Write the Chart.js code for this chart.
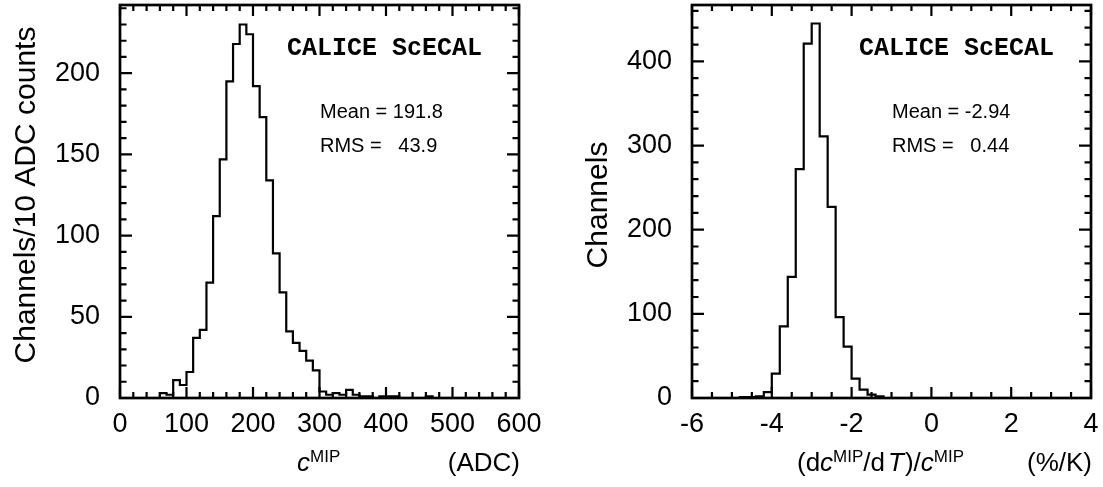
<!DOCTYPE html>
<html>
<head>
<meta charset="utf-8">
<script src="https://cdn.jsdelivr.net/npm/chart.js@4.4.1/dist/chart.umd.min.js"></script>
<style>
  html, body { margin: 0; padding: 0; background: #fff; }
  #wrap { position: relative; width: 1103px; height: 487px; }
  .painel { position: absolute; top: 0; height: 487px; }
  #p1 { left: 0; width: 551px; }
  #p2 { left: 551px; width: 552px; }
</style>
</head>
<body>
<div id="wrap">
  <div class="painel" id="p1"><canvas id="graficoAdc"></canvas></div>
  <div class="painel" id="p2"><canvas id="graficoSlope"></canvas></div>
</div>
<script>
// histograma 1: c^MIP, bins de 10 ADC a partir de 0
const adcBinStart = 0;
const adcBinWidth = 10;
const adcCounts = [
  0, 0, 0, 0, 0, 0, 3, 2, 11, 8,
  16, 37, 42, 71, 112, 147, 195, 218, 230, 224,
  192, 173, 134, 89, 65, 41, 34, 29, 23, 17,
  4, 2, 3, 2, 5, 2, 1, 1, 0, 1,
  1, 1, 0, 0, 0, 0, 1, 0, 0, 0,
  0, 0, 0, 0, 0, 0, 0, 0, 0, 0
];
const adcTicks = [0, 100, 200, 300, 400, 500, 600];
const adcCountTicks = [0, 50, 100, 150, 200];
const adcStats = ['Mean = 191.8', 'RMS =   43.9'];

// histograma 2: (dc/dT)/c, bins de 0.2 %/K a partir de -6
const slopeBinStart = -6;
const slopeBinWidth = 0.2;
const slopeCounts = [
  0, 0, 0, 0, 0, 0, 1, 1, 2, 7,
  29, 85, 144, 272, 421, 445, 311, 227, 96, 61,
  23, 10, 4, 2, 0, 0, 0, 0, 0, 0,
  0, 0, 0, 0, 0, 0, 0, 0, 0, 0,
  0, 0, 0, 0, 0, 0, 0, 0, 0, 0
];
const slopeTicks = [-6, -4, -2, 0, 2, 4];
const slopeCountTicks = [0, 100, 200, 300, 400];
const slopeStats = ['Mean = -2.94', 'RMS =   0.44'];

const SANS = '"Liberation Sans", Arial, Helvetica, sans-serif';
const MONO = '"Courier New", "Liberation Mono", monospace';

Chart.defaults.font.family = SANS;
Chart.defaults.color = '#000';

// pontos nas bordas dos bins, o ultimo fecha o bin final
function histPoints(start, width, counts) {
  const pts = counts.map((c, i) => ({ x: start + i * width, y: c }));
  pts.push({ x: start + counts.length * width, y: counts[counts.length - 1] });
  return pts;
}

// moldura estilo ROOT: caixa, ticks para dentro nos 4 lados, textos
const moldura = {
  id: 'moldura',
  afterDraw(chart, args, o) {
    const { ctx, chartArea: a } = chart;
    const x = chart.scales.x, y = chart.scales.y;
    ctx.save();
    ctx.strokeStyle = '#000';
    ctx.fillStyle = '#000';

    ctx.lineWidth = 2.2;
    ctx.beginPath();
    const nx = Math.round((x.max - x.min) / o.xMinor);
    for (let k = 0; k <= nx; k++) {
      const v = x.min + k * o.xMinor;
      const r = v / o.xMajor;
      const len = Math.abs(r - Math.round(r)) < 1e-6 ? 11 : 6;
      const px = x.getPixelForValue(v);
      ctx.moveTo(px, a.bottom); ctx.lineTo(px, a.bottom - len);
      ctx.moveTo(px, a.top); ctx.lineTo(px, a.top + len);
    }
    const ny = Math.floor(y.max / o.yMinor + 1e-9);
    for (let k = 0; k <= ny; k++) {
      const v = k * o.yMinor;
      const len = (v % o.yMajor) === 0 ? 12 : 6.5;
      const py = y.getPixelForValue(v);
      ctx.moveTo(a.left, py); ctx.lineTo(a.left + len, py);
      ctx.moveTo(a.right, py); ctx.lineTo(a.right - len, py);
    }
    ctx.stroke();

    ctx.lineWidth = 2.7;
    ctx.strokeRect(a.left, a.top, a.right - a.left, a.bottom - a.top);

    // rotulo do experimento e estatisticas
    ctx.textAlign = 'left';
    ctx.textBaseline = 'alphabetic';
    ctx.font = 'bold 25px ' + MONO;
    ctx.fillText('CALICE ScECAL', a.left + 167, 55);
    ctx.font = '20px ' + SANS;
    ctx.fillText(o.stats[0], a.left + 200, 118);
    ctx.fillText(o.stats[1], a.left + 200, 152);

    // titulo do eixo x com sobrescritos
    let cx = a.left + o.titleX;
    o.xTitle.forEach(p => {
      ctx.font = p.font;
      ctx.fillText(p.t, cx, 471 - (p.up || 0));
      cx += ctx.measureText(p.t).width + (p.gap || 0);
    });
    ctx.font = '26px ' + SANS;
    ctx.textAlign = 'right';
    ctx.fillText(o.unit, a.right + 1, 471);

    // titulo do eixo y
    ctx.font = '30px ' + SANS;
    ctx.textAlign = 'center';
    ctx.translate(a.left - 85, o.yTitleY);
    ctx.rotate(-Math.PI / 2);
    ctx.fillText(o.yTitle, 0, 0);
    ctx.restore();
  }
};

const N = '26px ' + SANS;
const I = 'italic 26px ' + SANS;
const S = '17px ' + SANS;

function makeChart(id, p) {
  return new Chart(document.getElementById(id), {
    type: 'line',
    data: {
      datasets: [{
        data: histPoints(p.start, p.width, p.counts),
        stepped: 'before',
        borderColor: '#000',
        borderWidth: 2.2,
        pointRadius: 0,
        fill: false
      }]
    },
    plugins: [moldura],
    options: {
      responsive: true,
      maintainAspectRatio: false,
      animation: false,
      events: [],
      layout: { padding: { top: 5, right: p.padRight, left: 0, bottom: 0 } },
      plugins: {
        legend: { display: false },
        tooltip: { enabled: false },
        moldura: {
          xMinor: p.xMinor, xMajor: p.xMajor, yMinor: p.yMinor, yMajor: p.yMajor,
          stats: p.stats, xTitle: p.xTitle, titleX: p.titleX, unit: p.unit,
          yTitle: p.yTitle, yTitleY: p.yTitleY
        }
      },
      scales: {
        x: {
          type: 'linear',
          bounds: 'data',
          min: p.xTicks[0],
          max: p.xTicks[p.xTicks.length - 1],
          grid: { display: false },
          border: { display: false },
          afterBuildTicks: s => { s.ticks = p.xTicks.map(v => ({ value: v })); },
          afterFit: s => { s.height = 89; s.paddingLeft = 0; s.paddingRight = 0; },
          ticks: { autoSkip: false, maxRotation: 0, padding: 2, font: { size: 27 }, callback: v => String(v) }
        },
        y: {
          type: 'linear',
          bounds: 'data',
          min: 0,
          max: p.yMax,
          grid: { display: false },
          border: { display: false },
          afterBuildTicks: s => { s.ticks = p.yTicks.map(v => ({ value: v })); },
          afterFit: s => { s.width = p.axisWidth; s.paddingTop = 0; s.paddingBottom = 0; },
          ticks: { autoSkip: false, padding: 12, font: { size: 27 }, callback: v => String(v) }
        }
      }
    }
  });
}

makeChart('graficoAdc', {
  start: adcBinStart, width: adcBinWidth, counts: adcCounts,
  xTicks: adcTicks, yTicks: adcCountTicks, yMax: 242,
  xMinor: 20, xMajor: 100, yMinor: 10, yMajor: 50,
  axisWidth: 120, padRight: 32,
  stats: adcStats,
  titleX: 177,
  xTitle: [{ t: 'c', font: I }, { t: 'MIP', font: S, up: 9 }],
  unit: '(ADC)',
  yTitle: 'Channels/10 ADC counts',
  yTitleY: 195
});

makeChart('graficoSlope', {
  start: slopeBinStart, width: slopeBinWidth, counts: slopeCounts,
  xTicks: slopeTicks, yTicks: slopeCountTicks, yMax: 467,
  xMinor: 0.5, xMajor: 2, yMinor: 20, yMajor: 100,
  axisWidth: 141, padRight: 12,
  stats: slopeStats,
  titleX: 105,
  xTitle: [
    { t: '(d', font: N }, { t: 'c', font: I }, { t: 'MIP', font: S, up: 9 },
    { t: '/d', font: N, gap: 3 }, { t: 'T', font: I, gap: 1 }, { t: ')/', font: N },
    { t: 'c', font: I }, { t: 'MIP', font: S, up: 9 }
  ],
  unit: '(%/K)',
  yTitle: 'Channels',
  yTitleY: 205
});
</script>
</body>
</html>
